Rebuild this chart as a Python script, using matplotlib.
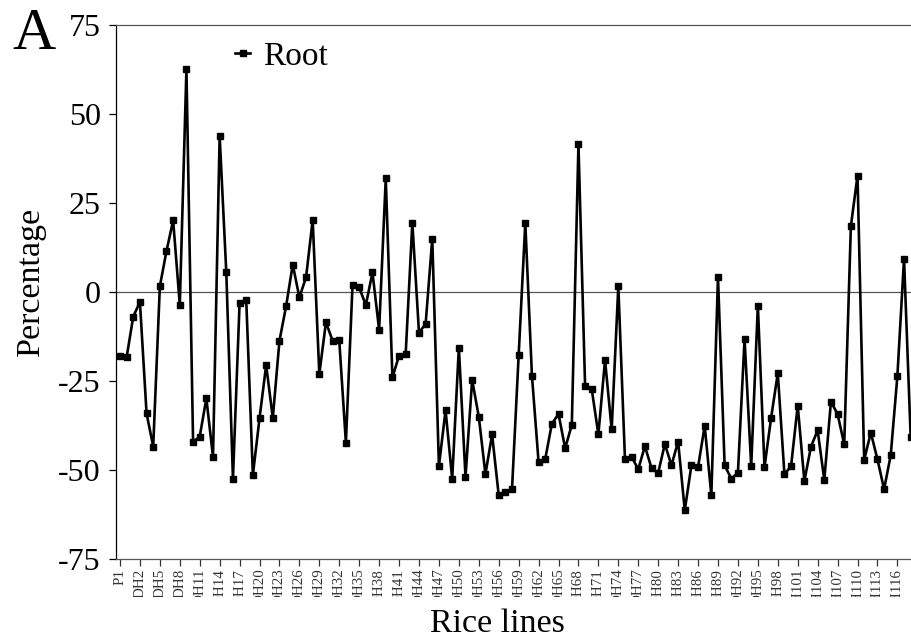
# imports
import matplotlib
matplotlib.use('Agg')
import matplotlib.pyplot as plt
from matplotlib.transforms import Bbox, TransformedBbox

# datos
lineas = ['P1', 'P2'] + ['DH%d' % i for i in range(1, 119)]
raiz = [-17.9, -18.3, -6.9, -2.8, -34.1, -43.4, 1.6, 11.5, 20.1, -3.6,
        62.6, -42.1, -40.6, -29.9, -46.3, 43.8, 5.5, -52.4, -3.1, -2.2,
        -51.4, -35.5, -20.5, -35.4, -13.7, -4.0, 7.7, -1.5, 4.1, 20.2,
        -23.0, -8.5, -13.7, -13.6, -42.3, 2.1, 1.3, -3.7, 5.5, -10.6,
        31.9, -24.0, -17.9, -17.3, 19.4, -11.4, -9.0, 15.0, -48.9, -33.2,
        -52.5, -15.6, -51.9, -24.7, -35.0, -51.2, -40.0, -57.1, -56.3, -55.4,
        -17.8, 19.4, -23.5, -47.8, -46.9, -37.0, -34.3, -43.9, -37.3, 41.5,
        -26.4, -27.3, -40.0, -19.1, -38.6, 1.6, -46.9, -46.3, -49.8, -43.3,
        -49.5, -50.8, -42.7, -48.7, -42.0, -61.3, -48.7, -49.2, -37.6, -57.1,
        4.3, -48.7, -52.4, -50.8, -13.2, -48.9, -3.8, -49.2, -35.3, -22.8,
        -51.2, -48.9, -31.9, -53.1, -43.4, -38.9, -52.8, -30.8, -34.3, -42.8,
        18.5, 32.7, -47.2, -39.5, -47.0, -55.4, -45.8, -23.6, 9.3, -40.8]
yticks = [-75, -50, -25, 0, 25, 50, 75]

plt.rcParams['font.family'] = ['Liberation Serif', 'DejaVu Serif']

fig = plt.figure(figsize=(9.12, 6.43), dpi=100)
ax = fig.add_axes([116 / 912, 84 / 643, 796 / 912, 534 / 643])

x = list(range(len(raiz)))
ax.plot(x, raiz, color='black', lw=1.9, marker='s', markersize=4.8, label='Root')
ax.axhline(0, color='#555555', lw=0.9, zorder=0)

ax.set_xlim(-0.6, 119.2)
ax.set_ylim(-75, 75)
ax.set_yticks(yticks)
ax.set_yticklabels([str(v) for v in yticks])
ax.set_xticks(x[::3])
ax.set_xticklabels(lineas[::3], rotation=90, fontsize=10.8, va='top')

ax.tick_params(axis='y', labelsize=23, length=5, width=0.9, pad=6, direction='out')
ax.tick_params(axis='x', length=5, width=0.9, pad=2, direction='out', colors='#333333')

ax.spines['right'].set_visible(False)
ax.spines['top'].set_color('#555555')
ax.spines['top'].set_linewidth(0.9)
ax.spines['bottom'].set_color('#555555')
ax.spines['bottom'].set_linewidth(0.9)
ax.spines['left'].set_linewidth(0.9)

# recortar etiquetas del eje x
recorte = TransformedBbox(Bbox([[0, 0.46], [9.12, 6.43]]), fig.dpi_scale_trans)
for t in ax.xaxis.get_major_ticks():
    t.label1.set_clip_box(recorte)
    t.label1.set_clip_on(True)

ax.set_ylabel('Percentage', fontsize=24.5)
ax.yaxis.set_label_coords(-0.088, 0.519)
ax.set_xlabel('Rice lines', fontsize=24.5)
ax.xaxis.set_label_coords(0.479, -0.092)

ax.legend(loc='upper left', bbox_to_anchor=(0.1495, 0.97), frameon=False,
          fontsize=24, handlelength=0.45, handletextpad=0.4,
          borderpad=0, borderaxespad=0, markerscale=0.8)

fig.text(34 / 912, 1 - 35 / 643, 'A', fontsize=43, ha='center', va='center')

fig.savefig('out.png', dpi=100)
